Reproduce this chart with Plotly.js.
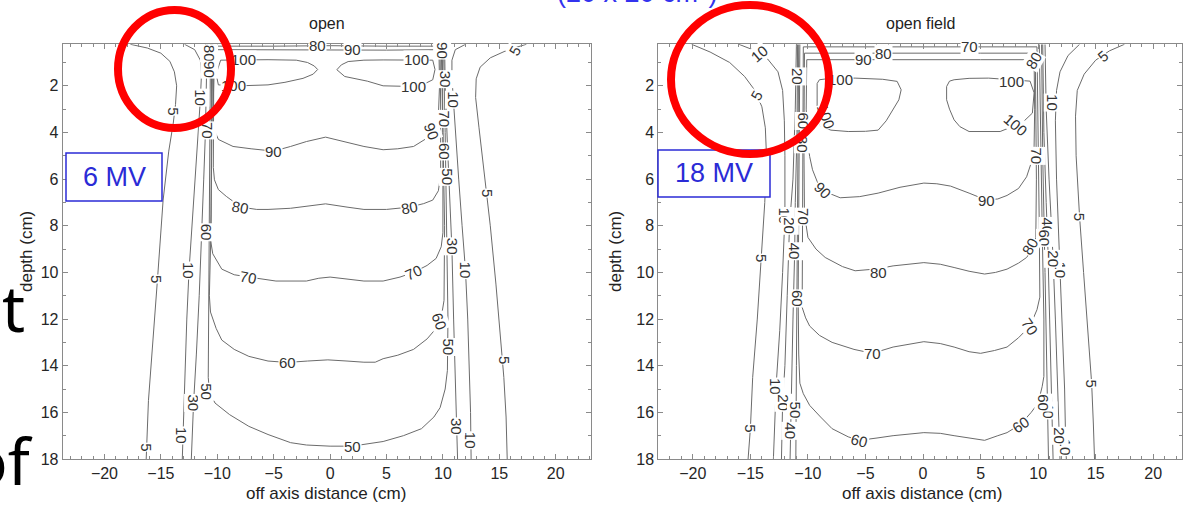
<!DOCTYPE html>
<html><head><meta charset="utf-8">
<script src="https://cdn.plot.ly/plotly-3.0.1.min.js"></script>
<style>html,body{margin:0;padding:0;background:#fff;overflow:hidden}
#wrap{position:relative;width:1183px;height:505px}
#plot,#overlay{position:absolute;left:0;top:0;width:1183px;height:505px}
#overlay{pointer-events:none}</style>
</head><body><div id="wrap"><div id="plot"></div><div id="overlay"></div></div>
<script>
// ---------- DATA ----------
const panelTitles = ["open", "open field"];
const beamLabels = ["6 MV", "18 MV"];
const xAxisTitle = "off axis distance (cm)";
const yAxisTitle = "depth (cm)";
const headerText = "(20 x 20 cm<sup>2</sup>)";
const sideFragments = ["t", "of"];
const xTicks = [-20, -15, -10, -5, 0, 5, 10, 15, 20];
const yTicks = [2, 4, 6, 8, 10, 12, 14, 16, 18];

// 6 MV isodose lines, [off-axis cm, depth cm]
const mv6_5L = [[-17.7,0.22],[-16.2,0.38],[-15.0,0.6],[-14.2,0.95],[-13.8,1.4],[-13.6,2.0],[-13.7,2.8],[-13.9,3.6],[-14.3,4.8],[-14.8,6.9],[-15.3,10.3],[-15.8,13.3],[-16.1,15.5],[-16.3,18]];
const mv6_5R = [[17.4,0.22],[15.8,0.45],[14.2,0.8],[13.3,1.2],[12.95,1.7],[12.9,2.5],[13.2,3.8],[13.7,5.8],[14.2,8.0],[14.7,10.5],[15.1,12.8],[15.4,14.5],[15.6,16.2],[15.7,18]];
const mv6_10L = [[-12.9,0.22],[-12.0,0.45],[-11.5,0.9],[-11.4,1.5],[-11.5,2.6],[-11.7,4.0],[-11.95,5.8],[-12.2,7.8],[-12.5,9.9],[-12.7,12],[-12.85,14.2],[-13.0,16],[-13.1,18]];
const mv6_10R = [[12.0,0.22],[11.1,0.45],[10.8,0.9],[10.8,1.6],[10.9,2.4],[11.1,4],[11.4,6],[11.7,8],[12.0,9.9],[12.2,12],[12.35,14],[12.45,16],[12.5,18]];
const mv6_30L = [[-10.9,0.22],[-10.95,2],[-11.05,4],[-11.2,6],[-11.35,8.2],[-11.6,11],[-11.85,13.5],[-12.1,15.6],[-12.3,18]];
const mv6_30R = [[10.15,0.22],[10.2,2],[10.4,4.5],[10.6,7],[10.8,9],[10.95,12],[11.1,14.5],[11.2,16.8],[11.3,18]];
const mv6_50 = [[-10.6,0.22],[-10.65,4],[-10.7,8],[-10.75,12],[-10.8,14.5],[-10.7,15.1],[-10.2,15.6],[-8.9,16.1],[-7.2,16.6],[-5.5,16.95],[-3.5,17.3],[-2.1,17.4],[0,17.45],[1.95,17.45],[3.5,17.35],[4.7,17.25],[6.5,17.0],[8.1,16.7],[9.2,16.2],[9.75,15.8],[10.2,15.0],[10.4,14.2],[10.45,12],[10.35,8],[10.2,4],[10.05,0.22]];
const mv6_60 = [[-10.5,0.22],[-10.5,4],[-10.55,8],[-10.7,11.0],[-10.6,11.7],[-10.1,12.4],[-9.6,12.9],[-8.5,13.3],[-7.2,13.6],[-5.5,13.8],[-3.8,13.86],[-2,13.8],[-0.2,13.75],[1.5,13.8],[3.0,13.85],[4.0,13.85],[4.7,13.7],[6,13.55],[7.4,13.3],[8.6,12.85],[9.4,12.4],[9.9,11.8],[10.1,11.2],[10.15,8],[10.0,4],[9.95,0.22]];
const mv6_70 = [[-10.4,0.22],[-10.45,4],[-10.55,7.5],[-10.6,8.6],[-10.4,9.2],[-9.6,9.86],[-8.5,10.1],[-7.2,10.2],[-6,10.3],[-4.8,10.37],[-2.1,10.37],[-1,10.25],[0,10.2],[1.5,10.3],[3.0,10.37],[4.7,10.37],[6.2,10.2],[7.4,10.0],[8.6,9.7],[9.4,9.4],[9.85,8.9],[10.0,8.3],[10.0,4],[9.85,0.22]];
const mv6_80 = [[-10.3,0.3],[-10.35,3],[-10.35,5.5],[-10.25,6.03],[-9.9,6.45],[-9.2,6.74],[-7.9,7.2],[-6.5,7.3],[-5.5,7.3],[-3.5,7.25],[-2.1,7.17],[-0.4,7.06],[1.5,7.2],[3.0,7.3],[5.0,7.3],[7.05,7.2],[8.3,7.05],[9.1,6.9],[9.6,6.5],[9.8,5.8],[9.8,3],[9.75,0.3],[5,0.3],[0,0.28],[-5,0.3],[-10.3,0.3]];
const mv6_90 = [[-10.25,0.45],[-10.3,2],[-10.4,3.74],[-9.9,4.3],[-8.6,4.6],[-7,4.7],[-5.0,4.8],[-3.5,4.6],[-2.1,4.39],[-0.4,4.2],[1.2,4.4],[3.0,4.6],[4.7,4.74],[6,4.7],[7.4,4.6],[8.6,4.24],[9.0,3.96],[9.6,3.3],[9.7,2],[9.65,0.45],[5,0.47],[1.95,0.46],[-2,0.45],[-6,0.45],[-10.25,0.45]];
const mv6_100L = [[-9.7,0.9],[-8.3,0.89],[-5.5,0.88],[-3,0.9],[-2.0,1.0],[-1.4,1.15],[-1.1,1.3],[-1.5,1.5],[-2.4,1.68],[-4,1.85],[-5.5,1.96],[-8,2.0],[-9.9,1.96],[-10.1,1.5],[-9.7,0.9]];
const mv6_100R = [[0.6,1.31],[1.0,1.1],[1.6,0.96],[3,0.9],[4.7,0.89],[7.7,0.89],[9.1,0.9],[9.3,1.3],[9.1,1.74],[8.1,1.98],[7.4,2.03],[4.7,2.0],[3.3,1.8],[1.3,1.6],[0.6,1.31]];
// [text, x, y, angle]
const mv6_labels = [
  ["5",-13.9,3.1,90],["5",-15.4,10.3,90],["5",-16.3,17.5,90],["5",16.4,0.5,-60],["5",14.0,6.6,90],["5",15.4,13.75,90],
  ["10",-11.5,2.5,90],["10",-12.5,9.9,90],["10",-13.15,17.0,90],["10",10.95,2.6,90],["10",12.0,9.9,90],["10",12.45,17.2,90],
  ["30",-12.1,15.6,90],["30",11.2,16.6,90],["30",10.8,8.9,90],["30",10.2,1.7,90],
  ["50",-10.9,15.1,90],["50",10.5,13.2,90],["50",10.4,5.9,90],["50",1.95,17.45,0],
  ["60",-3.8,13.86,0],["60",9.7,12.1,70],["60",10.2,4.8,90],["60",-11.0,8.3,90],
  ["70",-7.2,10.2,10],["70",7.4,10.0,-25],["70",-10.8,3.9,90],["70",10.1,3.4,90],
  ["80",-7.9,7.2,10],["80",7.05,7.2,-10],["80",-1.1,0.25,0],["80",-10.7,0.6,90],
  ["90",-5.0,4.8,0],["90",9.0,3.96,70],["90",1.95,0.46,0],["90",-10.7,1.3,90],["90",9.9,0.5,90],
  ["100",-7.7,0.89,0],["100",-8.6,2.0,0],["100",7.7,0.89,0],["100",7.4,2.03,0]
];

// 18 MV isodose lines
const mv18_5L = [[-20.1,0.22],[-18.5,0.55],[-16.8,1.0],[-15.5,1.6],[-14.6,2.2],[-14.0,2.9],[-13.7,3.8],[-13.6,5],[-13.75,7],[-14.05,9.4],[-14.4,12],[-14.8,14.5],[-15.0,16.7],[-15.2,18]];
const mv18_10L = [[-16.0,0.22],[-14.8,0.45],[-13.5,0.85],[-12.6,1.4],[-12.2,2.2],[-12.05,3.5],[-12.0,5],[-12.0,7.6],[-12.2,10],[-12.45,12.5],[-12.75,14.75],[-12.9,16.5],[-13.0,18]];
const mv18_20L = [[-11.0,0.22],[-11.1,3],[-11.3,6],[-11.6,8.0],[-11.8,11],[-12.0,14],[-12.2,15.6],[-12.3,18]];
const mv18_40L = [[-10.9,0.22],[-10.95,4],[-11.1,7],[-11.15,9.1],[-11.3,12],[-11.4,14.5],[-11.5,16.8],[-11.55,18]];
const mv18_50L = [[-10.8,0.22],[-10.85,5],[-10.95,10],[-11.0,14],[-11.05,18]];
const mv18_50R = [[10.3,0.22],[10.4,5],[10.6,10],[10.8,15],[10.9,18]];
const mv18_40R = [[10.4,0.22],[10.5,4],[10.7,7],[10.85,9],[11.0,12],[11.15,15],[11.3,18]];
const mv18_20R = [[10.6,0.22],[10.7,3],[10.95,6],[11.3,9.4],[11.5,12],[11.7,15],[11.85,17.2],[11.9,18]];
const mv18_10R = [[13.6,0.22],[12.6,0.7],[11.9,1.4],[11.6,2.2],[11.5,3.5],[11.6,6],[11.9,9.9],[12.1,12.5],[12.3,15],[12.4,17.5],[12.45,18]];
const mv18_5R = [[17.5,0.22],[16.2,0.5],[15.0,0.9],[14.0,1.5],[13.4,2.2],[13.25,3.3],[13.3,5],[13.6,7.6],[13.95,10],[14.3,12.5],[14.65,14.75],[14.8,16.5],[14.9,18]];
const mv18_60 = [[-10.7,0.22],[-10.75,5],[-10.8,10],[-10.85,11.1],[-10.8,13.5],[-10.7,14.75],[-10.4,15.2],[-9.85,15.7],[-8.9,16.2],[-7.9,16.7],[-6.5,17.05],[-5.55,17.2],[-4,17.1],[-2.6,17.0],[0.07,16.87],[1.5,16.9],[2.7,17.0],[4,17.1],[5.35,17.2],[6.5,17.0],[7.3,16.87],[8.5,16.5],[9.4,16.0],[10.0,15.6],[10.35,14.9],[10.5,14.46],[10.5,12],[10.35,8],[10.2,4],[10.1,0.22]];
const mv18_70 = [[-10.4,0.33],[-10.45,4],[-10.5,8],[-10.5,11.5],[-10.2,11.95],[-9.85,12.3],[-9,12.7],[-7.9,13.0],[-6,13.3],[-4.4,13.47],[-2.6,13.2],[0.07,12.97],[1.5,13.05],[2.7,13.2],[4,13.4],[5.0,13.47],[6.2,13.35],[7.3,13.2],[8.3,12.8],[9.3,12.3],[9.9,11.6],[10.15,11.06],[10.1,8],[10.0,4],[9.9,0.33],[5,0.33],[0,0.32],[-5,0.33],[-10.4,0.33]];
const mv18_80 = [[-10.3,0.6],[-10.35,4.5],[-10.3,7.5],[-10.0,8.5],[-9.3,9.0],[-8.5,9.36],[-7,9.75],[-5.9,9.93],[-4,9.85],[-2.6,9.72],[0.07,9.58],[1.5,9.65],[2.7,9.79],[4,9.95],[5.35,10.07],[6.3,10.0],[7.3,9.86],[8.3,9.6],[9.0,9.36],[9.5,9.0],[9.8,8.5],[9.85,6],[9.8,3],[9.75,0.6],[5,0.6],[-3.4,0.6],[-10.3,0.6]];
const mv18_90 = [[-10.1,0.88],[-10.15,3],[-10.0,4.5],[-9.85,5.03],[-9.6,5.6],[-9.2,6.1],[-8.7,6.5],[-7.2,6.8],[-5.5,6.75],[-3.9,6.6],[-2,6.35],[0.07,6.17],[1.2,6.2],[2.4,6.3],[4,6.6],[5.5,6.9],[6.5,6.85],[7.3,6.7],[8.3,6.4],[9.0,5.9],[9.4,5.3],[9.65,4.6],[9.7,3],[9.65,0.88],[5,0.88],[-5.2,0.89],[-10.1,0.88]];
const mv18_100L = [[-9.0,1.74],[-7.9,1.67],[-5.9,1.67],[-3.5,1.72],[-2.25,1.81],[-1.9,2.17],[-2.1,2.6],[-2.6,3.0],[-3.2,3.5],[-3.9,3.9],[-5,3.95],[-6.5,3.96],[-8.0,3.9],[-8.9,3.74],[-9.2,3.0],[-9.2,1.9],[-9.0,1.74]];
const mv18_100R = [[2.05,2.03],[2.3,1.8],[2.7,1.74],[4,1.68],[5.7,1.67],[7.7,1.75],[9.3,1.8],[9.65,2.3],[9.6,2.8],[9.5,3.17],[8.8,3.5],[8.0,3.7],[6.7,3.96],[5.5,3.97],[4.0,3.96],[3.2,3.75],[2.7,3.46],[2.3,3.0],[2.05,2.6],[2.05,2.03]];
const mv18_labels = [
  ["5",-14.5,2.4,-60],["5",-14.05,9.4,90],["5",-15.0,16.7,90],["5",15.6,0.75,-40],["5",13.6,7.6,90],["5",14.65,14.75,90],
  ["10",-14.2,0.62,-40],["10",-12.0,7.6,90],["10",-12.8,14.9,90],["10",11.3,2.7,90],["10",11.95,9.9,90],["10",12.4,17.5,90],
  ["20",-11.6,8.0,90],["20",-12.1,15.6,90],["20",11.3,9.4,90],["20",11.85,17.0,90],["20",-10.9,1.6,90],
  ["40",-11.15,9.1,90],["40",-11.5,16.8,90],["40",10.8,8.0,90],["40",10.95,15.9,90],
  ["50",-11.0,15.9,90],
  ["60",-10.85,11.1,90],["60",-10.4,3.5,90],["60",-5.55,17.2,15],["60",8.5,16.5,-35],["60",10.5,15.6,90],["60",10.6,8.5,90],
  ["70",-4.4,13.47,0],["70",9.3,12.3,55],["70",-10.4,7.6,90],["70",9.85,5.0,90],["70",4.0,0.31,0],
  ["80",-3.9,10.0,0],["80",9.3,8.9,-60],["80",-10.4,4.5,90],["80",-3.4,0.6,0],["80",9.6,0.9,-60],
  ["90",-8.7,6.5,45],["90",5.5,6.9,0],["90",-5.2,0.89,0],
  ["100",-7.2,1.74,0],["100",-8.4,3.3,70],["100",7.7,1.81,0],["100",8.0,3.67,40]
];

// ---------- BUILD ----------
const W = 1183, H = 505;
const FONT = 'Liberation Sans, Arial, Helvetica, sans-serif';
const PX = p => p / W, PY = p => 1 - p / H;

const mv6Lines = [mv6_5L, mv6_5R, mv6_10L, mv6_10R, mv6_30L, mv6_30R, mv6_50, mv6_60, mv6_70, mv6_80, mv6_90, mv6_100L, mv6_100R];
const mv18Lines = [mv18_5L, mv18_10L, mv18_20L, mv18_40L, mv18_50L, mv18_50R, mv18_40R, mv18_20R, mv18_10R, mv18_5R, mv18_60, mv18_70, mv18_80, mv18_90, mv18_100L, mv18_100R];

const traces = [];
function addLines(lines, xa, ya) {
  lines.forEach(pts => traces.push({
    type: 'scatter', mode: 'lines', x: pts.map(p => p[0]), y: pts.map(p => p[1]),
    xaxis: xa, yaxis: ya, line: {color: '#6b6b6b', width: 1}, hoverinfo: 'skip', showlegend: false
  }));
}
addLines(mv6Lines, 'x', 'y');
addLines(mv18Lines, 'x2', 'y2');

const annotations = [];
function addLabels(labels, xr, yr) {
  labels.forEach(l => annotations.push({
    text: l[0], x: l[1], y: l[2], xref: xr, yref: yr, textangle: l[3], showarrow: false,
    xanchor: 'center', yanchor: 'middle',
    font: {family: FONT, size: 15, color: '#333'}, bgcolor: '#fff', borderpad: 0
  }));
}
addLabels(mv6_labels, 'x', 'y');
addLabels(mv18_labels, 'x2', 'y2');

function txt(text, xpx, ypx, size, color, extra) {
  annotations.push(Object.assign({text: text, x: PX(xpx), y: PY(ypx), xref: 'paper', yref: 'paper',
    xanchor: 'center', yanchor: 'middle', showarrow: false,
    font: {family: FONT, size: size, color: color}}, extra || {}));
}
txt(panelTitles[0], 327, 23, 16, '#222');
txt(panelTitles[1], 920, 23, 16, '#222');
txt(xAxisTitle, 326, 493, 17, '#222');
txt(xAxisTitle, 922, 493, 17, '#222');
txt(yAxisTitle, 26, 252, 17, '#222', {textangle: -90});
txt(yAxisTitle, 615, 252, 17, '#222', {textangle: -90});
txt(beamLabels[0], 114, 177, 27, '#2b2bd6');
txt(beamLabels[1], 714, 173, 27, '#2b2bd6');
txt(headerText, 637, 10, 27, '#3333ee', {yanchor: 'bottom'});
txt(sideFragments[0], 27, 353, 64, '#000', {xanchor: 'right', yanchor: 'bottom', font: {family: 'Noto Sans, Liberation Sans, sans-serif', size: 64, color: '#000'}});
txt(sideFragments[1], 35, 506, 64, '#000', {xanchor: 'right', yanchor: 'bottom', font: {family: 'Noto Sans, Liberation Sans, sans-serif', size: 64, color: '#000'}});

const boxes = [
  {type: 'rect', xref: 'paper', yref: 'paper', x0: PX(66), x1: PX(162), y0: PY(153), y1: PY(201), line: {color: '#2b2bd6', width: 1.5}, fillcolor: '#fff', layer: 'above'},
  {type: 'rect', xref: 'paper', yref: 'paper', x0: PX(658), x1: PX(770), y0: PY(150), y1: PY(197), line: {color: '#2b2bd6', width: 1.5}, fillcolor: '#fff', layer: 'above'}
];
const rings = [
  {type: 'circle', xref: 'paper', yref: 'paper', x0: PX(118), x1: PX(231), y0: PY(10), y1: PY(128), line: {color: '#ff0000', width: 8}},
  {type: 'circle', xref: 'paper', yref: 'paper', x0: PX(671), x1: PX(829), y0: PY(5), y1: PY(154), line: {color: '#ff0000', width: 8}}
];

function axis(extra) {
  return Object.assign({
    showline: true, linecolor: '#8a8a8a', linewidth: 1, mirror: 'ticks', ticks: 'inside', ticklen: 5, tickwidth: 1,
    tickcolor: '#8a8a8a', showgrid: false, zeroline: false, fixedrange: true,
    tickfont: {family: FONT, size: 16, color: '#262626'},
    minor: {ticks: 'inside', ticklen: 3, tickcolor: '#8a8a8a', dtick: 1, tick0: 0, showgrid: false}
  }, extra);
}
const yDom = [(H - 459) / H, (H - 44.3) / H];
const layout = {
  width: W, height: H, autosize: false, margin: {l: 0, r: 0, t: 0, b: 0},
  paper_bgcolor: '#fff', plot_bgcolor: '#fff', showlegend: false,
  xaxis: axis({domain: [62.7 / W, 590.7 / W], range: [-23.7, 23.1], tickmode: 'array', tickvals: xTicks, anchor: 'y'}),
  yaxis: axis({domain: yDom, range: [18, 0.22], tickmode: 'array', tickvals: yTicks, anchor: 'x'}),
  xaxis2: axis({domain: [658.3 / W, 1182 / W], range: [-23.0, 22.5], tickmode: 'array', tickvals: xTicks, anchor: 'y2'}),
  yaxis2: axis({domain: yDom, range: [18, 0.22], tickmode: 'array', tickvals: yTicks, anchor: 'x2'}),
  annotations: annotations, shapes: boxes
};
Plotly.newPlot('plot', traces, layout, {staticPlot: true, displayModeBar: false});

// red highlight rings drawn on a transparent Plotly layer above the labels
Plotly.newPlot('overlay', [], {
  width: W, height: H, autosize: false, margin: {l: 0, r: 0, t: 0, b: 0},
  paper_bgcolor: 'rgba(0,0,0,0)', plot_bgcolor: 'rgba(0,0,0,0)', showlegend: false,
  xaxis: {visible: false}, yaxis: {visible: false}, shapes: rings
}, {staticPlot: true, displayModeBar: false});
</script></body></html>
